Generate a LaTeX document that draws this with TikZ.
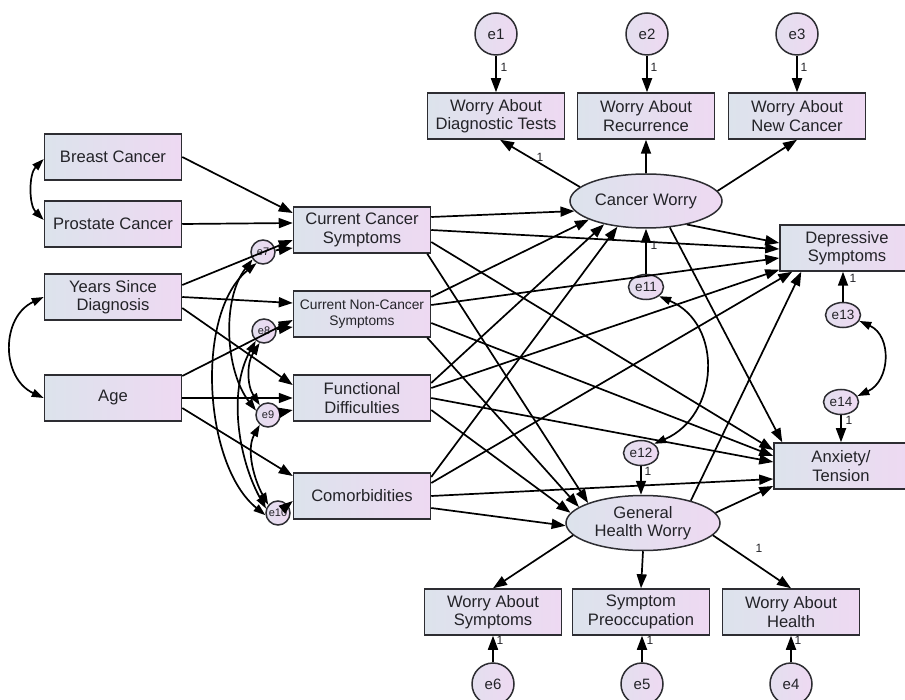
\documentclass[tikz,border=0pt]{standalone}
\usepackage{fontspec}
\setmainfont{Liberation Sans}
\usetikzlibrary{arrows.meta,shapes.geometric,calc}
\definecolor{fillL}{RGB}{220,227,236}
\definecolor{fillR}{RGB}{238,217,242}
\definecolor{edge}{RGB}{45,45,50}
\definecolor{txt}{RGB}{35,35,40}
\tikzset{
 obs/.style={draw=edge, line width=1.5pt, left color=fillL, right color=fillR, minimum width=137pt, minimum height=46pt, inner sep=0pt, align=center, font=\fontsize{16.6}{18.5}\selectfont, text=txt},
 lat/.style={ellipse, draw=edge, line width=1.5pt, left color=fillL, right color=fillR, minimum width=152pt, minimum height=54pt, inner sep=0pt, align=center, font=\fontsize{16.6}{18.5}\selectfont, text=txt},
 errbig/.style={circle, draw=edge, line width=1.5pt, left color=fillL!60!fillR, right color=fillR, minimum size=42pt, inner sep=0pt, font=\fontsize{15}{16}\selectfont, text=txt},
 errmid/.style={ellipse, draw=edge, line width=1.5pt, left color=fillL!60!fillR, right color=fillR, minimum width=35pt, minimum height=25pt, inner sep=0pt, font=\fontsize{13.5}{14}\selectfont, text=txt},
 errsm/.style={circle, draw=edge, line width=1.5pt, left color=fillL!60!fillR, right color=fillR, minimum size=24pt, inner sep=0pt, font=\fontsize{11}{12}\selectfont, text=txt},
 arr/.style={line width=1.7pt, draw=black, -{Triangle[length=14pt,width=10pt]}},
 cov/.style={line width=1.7pt, draw=black, {Triangle[length=12pt,width=8pt]}-{Triangle[length=12pt,width=8pt]}},
 one/.style={font=\fontsize{12}{13}\selectfont, inner sep=0pt, text=txt},
}
\begin{document}
\begin{tikzpicture}[x=1pt,y=-1pt]
\useasboundingbox (0,0) rectangle (905,700);
\fill[white] (0,0) rectangle (905,700);
% observed variables
\node[obs] (bc) at (113,157) {Breast Cancer};
\node[obs] (pc) at (113,224) {Prostate Cancer};
\node[obs] (ysd) at (113,297) {Years Since\\Diagnosis};
\node[obs] (age) at (113,398) {Age};
\node[obs] (ccs) at (362,230) {Current Cancer\\Symptoms};
\node[obs, font=\fontsize{13.8}{16}\selectfont] (cncs) at (362,314) {Current Non-Cancer\\Symptoms};
\node[obs] (fd) at (362,398) {Functional\\Difficulties};
\node[obs] (com) at (362,496) {Comorbidities};
\node[obs] (wadt) at (496,116) {Worry About\\Diagnostic Tests};
\node[obs] (war) at (646,116) {Worry About\\Recurrence};
\node[obs] (wanc) at (797,116) {Worry About\\New Cancer};
\node[obs] (was) at (493,612) {Worry About\\Symptoms};
\node[obs] (sp) at (641,612) {Symptom\\Preoccupation};
\node[obs] (wah) at (791,612) {Worry About\\Health};
\node[obs, minimum width=134pt] (ds) at (847,248) {Depressive\\Symptoms};
\node[obs, minimum width=134pt] (at) at (841,466) {Anxiety/\\Tension};
% latent
\node[lat] (cw) at (646,201) {Cancer Worry};
\node[lat, minimum width=154pt, minimum height=55pt] (ghw) at (643,523) {General\\Health Worry};
% errors
\node[errbig] (e1) at (496,34) {e1};
\node[errbig] (e2) at (647,34) {e2};
\node[errbig] (e3) at (797,34) {e3};
\node[errbig] (e6) at (493,684) {e6};
\node[errbig] (e5) at (642,684) {e5};
\node[errbig] (e4) at (791,684) {e4};
\node[errmid] (e11) at (646,287) {e11};
\node[errmid] (e12) at (641,453) {e12};
\node[errmid] (e13) at (843,315) {e13};
\node[errmid] (e14) at (841,402) {e14};
\node[errsm] (e7) at (263,252) {e7};
\node[errsm] (e8) at (264,331) {e8};
\node[errsm] (e9) at (268,415) {e9};
\node[errsm] (e10) at (278,513) {e10};
% exogenous -> first-level
\draw[arr] (bc.east) -- ($(ccs.west)+(0,-17)$);
\draw[arr] (pc.east) -- ($(ccs.west)+(0,-7)$);
\draw[arr] ($(ysd.east)+(0,-12)$) -- ($(ccs.west)+(0,10)$);
\draw[arr] (ysd.east) -- ($(cncs.west)+(0,-11)$);
\draw[arr] ($(ysd.east)+(0,11)$) -- ($(fd.west)+(0,-13)$);
\draw[arr] ($(age.east)+(0,-22)$) -- ($(cncs.west)+(0,6)$);
\draw[arr] (age.east) -- (fd.west);
\draw[arr] ($(age.east)+(0,10)$) -- ($(com.west)+(0,-20)$);
\draw[arr] (e7) -- ($(ccs.west)+(0,18)$);
\draw[arr] (e8) -- ($(cncs.west)+(0,13)$);
\draw[arr] (e9) -- ($(fd.west)+(0,12)$);
\draw[arr] (e10) -- ($(com.west)+(0,5)$);
% covariances left
\draw[cov] ($(bc.west)+(0,2)$) .. controls +(-15,15) and +(-15,-15) .. ($(pc.west)+(0,-4)$);
\draw[cov] (ysd.west) .. controls +(-43,20) and +(-43,-20) .. (age.west);
\draw[cov] (e7.240) .. controls +(-62,50) and +(-62,-50) .. (e10.190);
\draw[cov] (e7.215) .. controls +(-31,40) and +(-31,-40) .. (e9.160);
\draw[cov] (e8.230) .. controls +(-28,50) and +(-28,-50) .. (e10.160);
\draw[cov] (e8.250) .. controls +(-13,20) and +(-13,-20) .. (e9.130);
\draw[cov] (e9.230) .. controls +(-14,25) and +(-14,-25) .. (e10.140);
% CCS
\draw[arr] ($(ccs.east)+(0,-13)$) -- (cw.188);
\draw[arr] (ccs.east) -- ($(ds.west)+(0,1)$);
\draw[arr] ($(ccs.east)+(0,12)$) -- ($(at.west)+(0,-16)$);
\draw[arr] ($(ccs.south east)+(-4,0)$) -- (ghw.160);
% CNCS
\draw[arr] ($(cncs.east)+(0,-17)$) -- (cw.198);
\draw[arr] ($(cncs.east)+(0,-9)$) -- ($(ds.west)+(0,10)$);
\draw[arr] ($(cncs.east)+(0,9)$) -- ($(at.west)+(0,-10)$);
\draw[arr] ($(cncs.south east)+(-4,0)$) -- (ghw.166);
% FD
\draw[arr] ($(fd.east)+(0,-15)$) -- (cw.209);
\draw[arr] ($(fd.east)+(0,-10)$) -- ($(ds.south west)+(0,-2)$);
\draw[arr] (fd.east) -- ($(at.west)+(0,-4)$);
\draw[arr] ($(fd.east)+(0,12)$) -- (ghw.172);
% Comorbidities
\draw[arr] ($(com.east)+(0,-19)$) -- (cw.222);
\draw[arr] ($(com.east)+(0,-13)$) -- ($(ds.south west)+(13,0)$);
\draw[arr] (com.east) -- ($(at.west)+(0,13)$);
\draw[arr] ($(com.east)+(0,12)$) -- (ghw.182);
% latent -> outcomes
\draw[arr] (cw.-30) -- ($(ds.west)+(0,-5)$);
\draw[arr] (cw.-48) -- ($(at.north west)+(9,0)$);
\draw[arr] (ghw.25) -- ($(ds.south west)+(22,0)$);
\draw[arr] (ghw.8) -- ($(at.west)+(0,20)$);
% indicators
\draw[arr] (cw.168) -- ($(wadt.south)+(4,0)$);
\draw[arr] (cw.north) -- (war.south);
\draw[arr] (cw.8) -- (wanc.south);
\draw[arr] (ghw.190) -- (was.north);
\draw[arr] (ghw.south) -- (sp.north);
\draw[arr] (ghw.-10) -- (wah.north);
% errors -> indicators
\draw[arr] (e1) -- (e1 |- wadt.north);
\draw[arr] (e2) -- (e2 |- war.north);
\draw[arr] (e3) -- (e3 |- wanc.north);
\draw[arr] (e6) -- (e6 |- was.south);
\draw[arr] (e5) -- (e5 |- sp.south);
\draw[arr] (e4) -- (e4 |- wah.south);
\draw[arr] (e11) -- (e11 |- cw.south);
\draw[arr] (e12) -- (e12 |- ghw.north);
\draw[arr] (e13) -- (e13 |- ds.south);
\draw[arr] (e14) -- (e14 |- at.north);
% covariances right
\draw[cov] (e11.-35) .. controls +(65,28) and +(65,-28) .. (e12.35);
\draw[cov] (e13.-20) .. controls +(33,15) and +(33,-15) .. (e14.20);
% labels
\node[one] (l1) at (504,67) {1};
\node[one] (l2) at (654,67) {1};
\node[one] (l3) at (804,67) {1};
\node[one] (lcw) at (540,157) {1};
\node[one] (l11) at (654,245) {1};
\node[one] (l12) at (648,471) {1};
\node[one] (l13) at (853,278) {1};
\node[one] (l14) at (849,420) {1};
\node[one] (lgh) at (759,548) {1};
\node[one] (l6) at (500,640) {1};
\node[one] (l5) at (650,640) {1};
\node[one] (l4) at (798,640) {1};
\end{tikzpicture}
\end{document}
